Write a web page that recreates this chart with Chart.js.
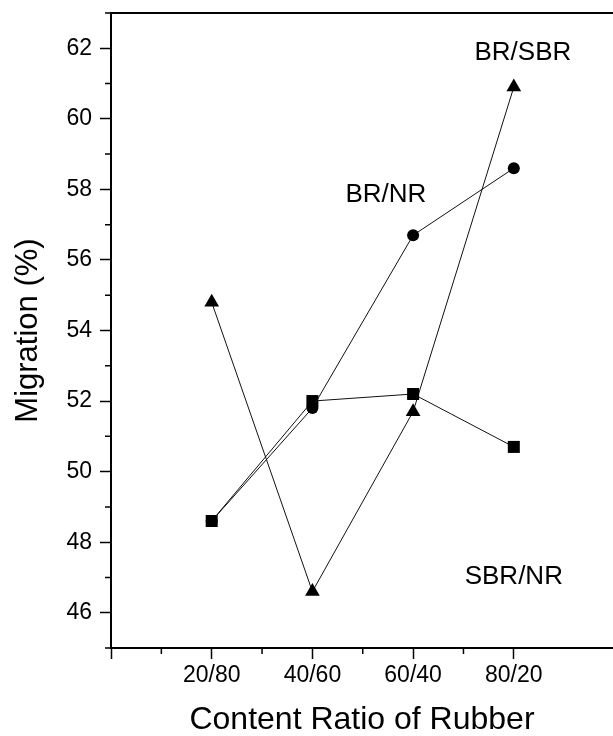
<!DOCTYPE html>
<html>
<head>
<meta charset="utf-8">
<script src="https://cdn.jsdelivr.net/npm/chart.js@4"></script>
<style>
  html, body { margin: 0; padding: 0; background: #fff; overflow: hidden; }
  canvas { display: block; background: #fff; }
</style>
</head>
<body>
<canvas id="migrationChart" width="613" height="736"></canvas>
<script>
// ratios of the two rubbers in the blend
const categories = ['20/80', '40/60', '60/40', '80/20'];

// migration (%)
const brNR  = [48.6, 51.8, 56.7, 58.6];   // circles
const sbrNR = [48.6, 52.0, 52.2, 50.7];   // squares
const brSBR = [54.8, 46.6, 51.7, 60.9];   // triangles

const fontFamily = "'Liberation Sans', Arial, Helvetica, sans-serif";
Chart.defaults.font.family = fontFamily;
Chart.defaults.color = '#000';

// category i sits at x = i + 1 on the linear axis
const toPoints = vals => vals.map((v, i) => ({ x: i + 1, y: v }));

const series = (label, vals, style, radius) => ({
  label: label,
  data: toPoints(vals),
  borderColor: '#111',
  borderWidth: 1,
  pointStyle: style,
  pointRadius: radius,
  pointBackgroundColor: '#000',
  pointBorderWidth: 0,
  tension: 0,
  fill: false
});

// keep the plot box where the figure has it, labels may hang over
const noPad = s => {
  s.paddingTop = 0; s.paddingBottom = 0;
  s.paddingLeft = 0; s.paddingRight = 0;
};

const ctx = document.getElementById('migrationChart').getContext('2d');

// minor ticks, top frame line and the text labels in the plot
const frame = {
  id: 'frame',
  afterDraw(chart, args, opts) {
    const { ctx, chartArea: a, scales: { x, y } } = chart;
    ctx.save();
    ctx.strokeStyle = '#000';
    ctx.lineWidth = 1.5;
    ctx.beginPath();
    y.ticks.forEach(t => {
      if (t.value % 2 !== 0) {
        const py = y.getPixelForValue(t.value);
        ctx.moveTo(a.left - 6, py);
        ctx.lineTo(a.left, py);
      }
    });
    x.ticks.forEach(t => {
      if (Math.abs(t.value % 1 - 0.5) < 1e-6) {
        const px = x.getPixelForValue(t.value);
        ctx.moveTo(px, a.bottom);
        ctx.lineTo(px, a.bottom + 6);
      }
    });
    ctx.stroke();

    ctx.lineWidth = 2;
    ctx.beginPath();
    ctx.moveTo(a.left - 1, a.top);
    ctx.lineTo(a.right, a.top);
    ctx.stroke();

    ctx.fillStyle = '#000';
    ctx.font = '26px ' + fontFamily;
    ctx.textAlign = 'center';
    ctx.textBaseline = 'middle';
    opts.notes.forEach(n => {
      ctx.fillText(n.text, x.getPixelForValue(n.x), y.getPixelForValue(n.y));
    });
    ctx.restore();
  }
};

const chart = new Chart(ctx, {
  type: 'line',
  data: {
    datasets: [
      series('BR/NR', brNR, 'circle', 6),
      series('SBR/NR', sbrNR, 'rect', 8.5),
      series('BR/SBR', brSBR, 'triangle', 8.5)
    ]
  },
  options: {
    responsive: false,
    animation: false,
    layout: { autoPadding: false, padding: { top: 13, right: 0, bottom: 0, left: 0 } },
    plugins: {
      legend: { display: false },
      tooltip: { enabled: false },
      frame: {
        notes: [
          { text: 'BR/SBR', x: 4.09, y: 61.87 },
          { text: 'BR/NR', x: 2.73, y: 57.84 },
          { text: 'SBR/NR', x: 4.0, y: 47.02 }
        ]
      }
    },
    scales: {
      x: {
        type: 'linear',
        min: 0,
        max: 4.985,
        afterFit: s => { s.height = 88; noPad(s); },
        border: { color: '#000', width: 2 },
        grid: {
          drawOnChartArea: false,
          tickLength: 11,
          tickWidth: 1.5,
          tickColor: c => (c.tick && Number.isInteger(c.tick.value) ? '#000' : 'rgba(0,0,0,0)')
        },
        ticks: {
          stepSize: 0.5,
          autoSkip: false,
          maxRotation: 0,
          padding: 3,
          color: '#000',
          font: { size: 23 },
          callback: v => (Number.isInteger(v) && v >= 1 && v <= categories.length ? categories[v - 1] : '')
        },
        title: {
          display: true,
          text: 'Content Ratio of Rubber',
          color: '#000',
          font: { size: 32, lineHeight: 1 },
          padding: 0
        }
      },
      y: {
        min: 45,
        max: 63,
        afterFit: s => { s.width = 111; noPad(s); },
        border: { color: '#000', width: 2 },
        grid: {
          drawOnChartArea: false,
          tickLength: 11,
          tickWidth: 1.5,
          tickColor: c => (c.tick && c.tick.value % 2 === 0 ? '#000' : 'rgba(0,0,0,0)')
        },
        ticks: {
          stepSize: 1,
          autoSkip: false,
          padding: 8,
          color: '#000',
          font: { size: 23 },
          callback: v => (v % 2 === 0 ? v : '')
        },
        title: {
          display: true,
          text: 'Migration (%)',
          color: '#000',
          font: { size: 31, lineHeight: 1 },
          padding: { top: 13, bottom: 0 }
        }
      }
    }
  },
  plugins: [frame]
});
</script>
</body>
</html>
